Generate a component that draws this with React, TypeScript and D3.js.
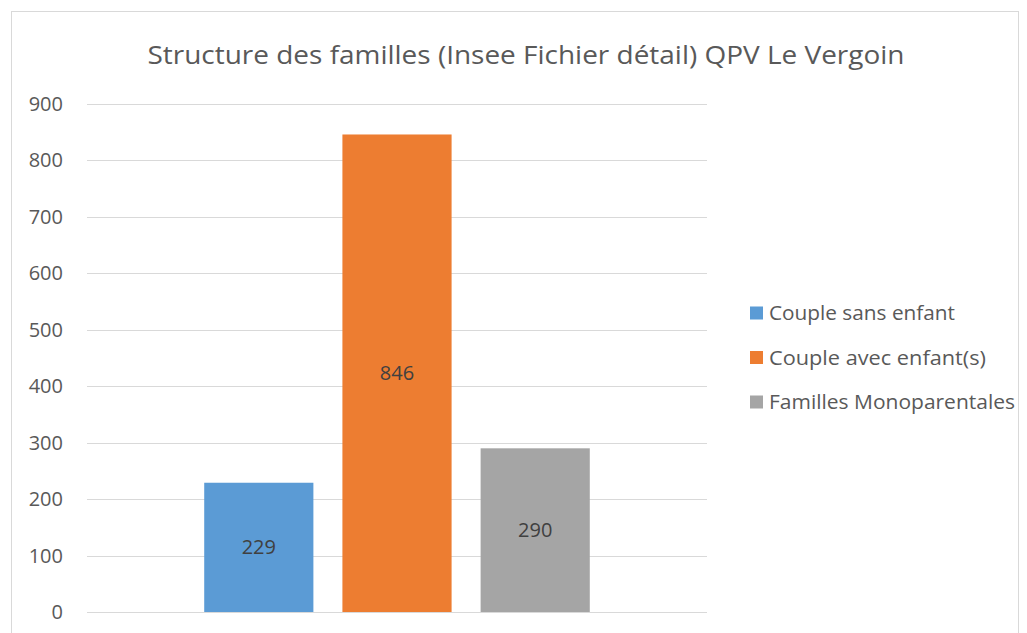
import React from "react";
import * as d3 from "d3";

const title = "Structure des familles (Insee Fichier détail) QPV Le Vergoin";
const seriesNames = ["Couple sans enfant", "Couple avec enfant(s)", "Familles Monoparentales"];
const seriesValues = [229, 846, 290];
const seriesColors = ["#5B9BD5", "#ED7D31", "#A5A5A5"];
const yTicks = [0, 100, 200, 300, 400, 500, 600, 700, 800, 900];

const W = 1027;
const H = 633;
const FONT = "'Open Sans', 'Noto Sans', sans-serif";

export default function App() {
  const plot = { left: 87, right: 707, top: 104, bottom: 612 };
  const y = d3.scaleLinear().domain([0, 900]).range([plot.bottom, plot.top]);
  const outer = d3.scaleBand().domain(["g"]).range([plot.left, plot.right]).paddingOuter(0.304).paddingInner(0);
  const inner = d3
    .scaleBand<number>()
    .domain(d3.range(seriesValues.length))
    .range([outer("g")!, outer("g")! + outer.bandwidth()])
    .paddingInner(0.21)
    .paddingOuter(0);

  return (
    <div style={{ position: "absolute", left: 0, top: 0 }}>
      <svg width={W} height={H} style={{ display: "block" }}>
        <rect x={0} y={0} width={W} height={H} fill="#fff" />
        <rect x={11.5} y={11.5} width={1007} height={640} fill="#fff" stroke="#d9d9d9" strokeWidth={1} />
        <text
          x={526}
          y={64}
          textAnchor="middle"
          fontFamily={FONT}
          fontSize={25}
          fill="#595959"
          textLength={757}
          lengthAdjust="spacingAndGlyphs"
        >
          {title}
        </text>
        {yTicks.map((t) => (
          <g key={t}>
            <line x1={plot.left} x2={plot.right} y1={Math.round(y(t)) + 0.5} y2={Math.round(y(t)) + 0.5} stroke="#d9d9d9" strokeWidth={1.2} />
            <text x={63} y={y(t)} dy="0.35em" textAnchor="end" fontFamily={FONT} fontSize={20} fill="#595959">
              {t}
            </text>
          </g>
        ))}
        {seriesValues.map((v, i) => {
          const x = inner(i)!;
          const bw = inner.bandwidth();
          return (
            <g key={i}>
              <rect x={x} y={y(v)} width={bw} height={y(0) - y(v)} fill={seriesColors[i]} />
              <text
                x={x + bw / 2}
                y={(y(v) + y(0)) / 2}
                dy="0.35em"
                textAnchor="middle"
                fontFamily={FONT}
                fontSize={20}
                fill="#404040"
              >
                {v}
              </text>
            </g>
          );
        })}
        {seriesNames.map((n, i) => {
          const cy = 313 + i * 44.5;
          return (
            <g key={n}>
              <rect x={750} y={cy - 6.5} width={13} height={13} fill={seriesColors[i]} />
              <text
                x={769}
                y={cy}
                dy="0.35em"
                fontFamily={FONT}
                fontSize={20}
                fill="#595959"
                textLength={i === 0 ? 186 : i === 1 ? 217 : 246}
                lengthAdjust="spacingAndGlyphs"
              >
                {n}
              </text>
            </g>
          );
        })}
      </svg>
    </div>
  );
}
